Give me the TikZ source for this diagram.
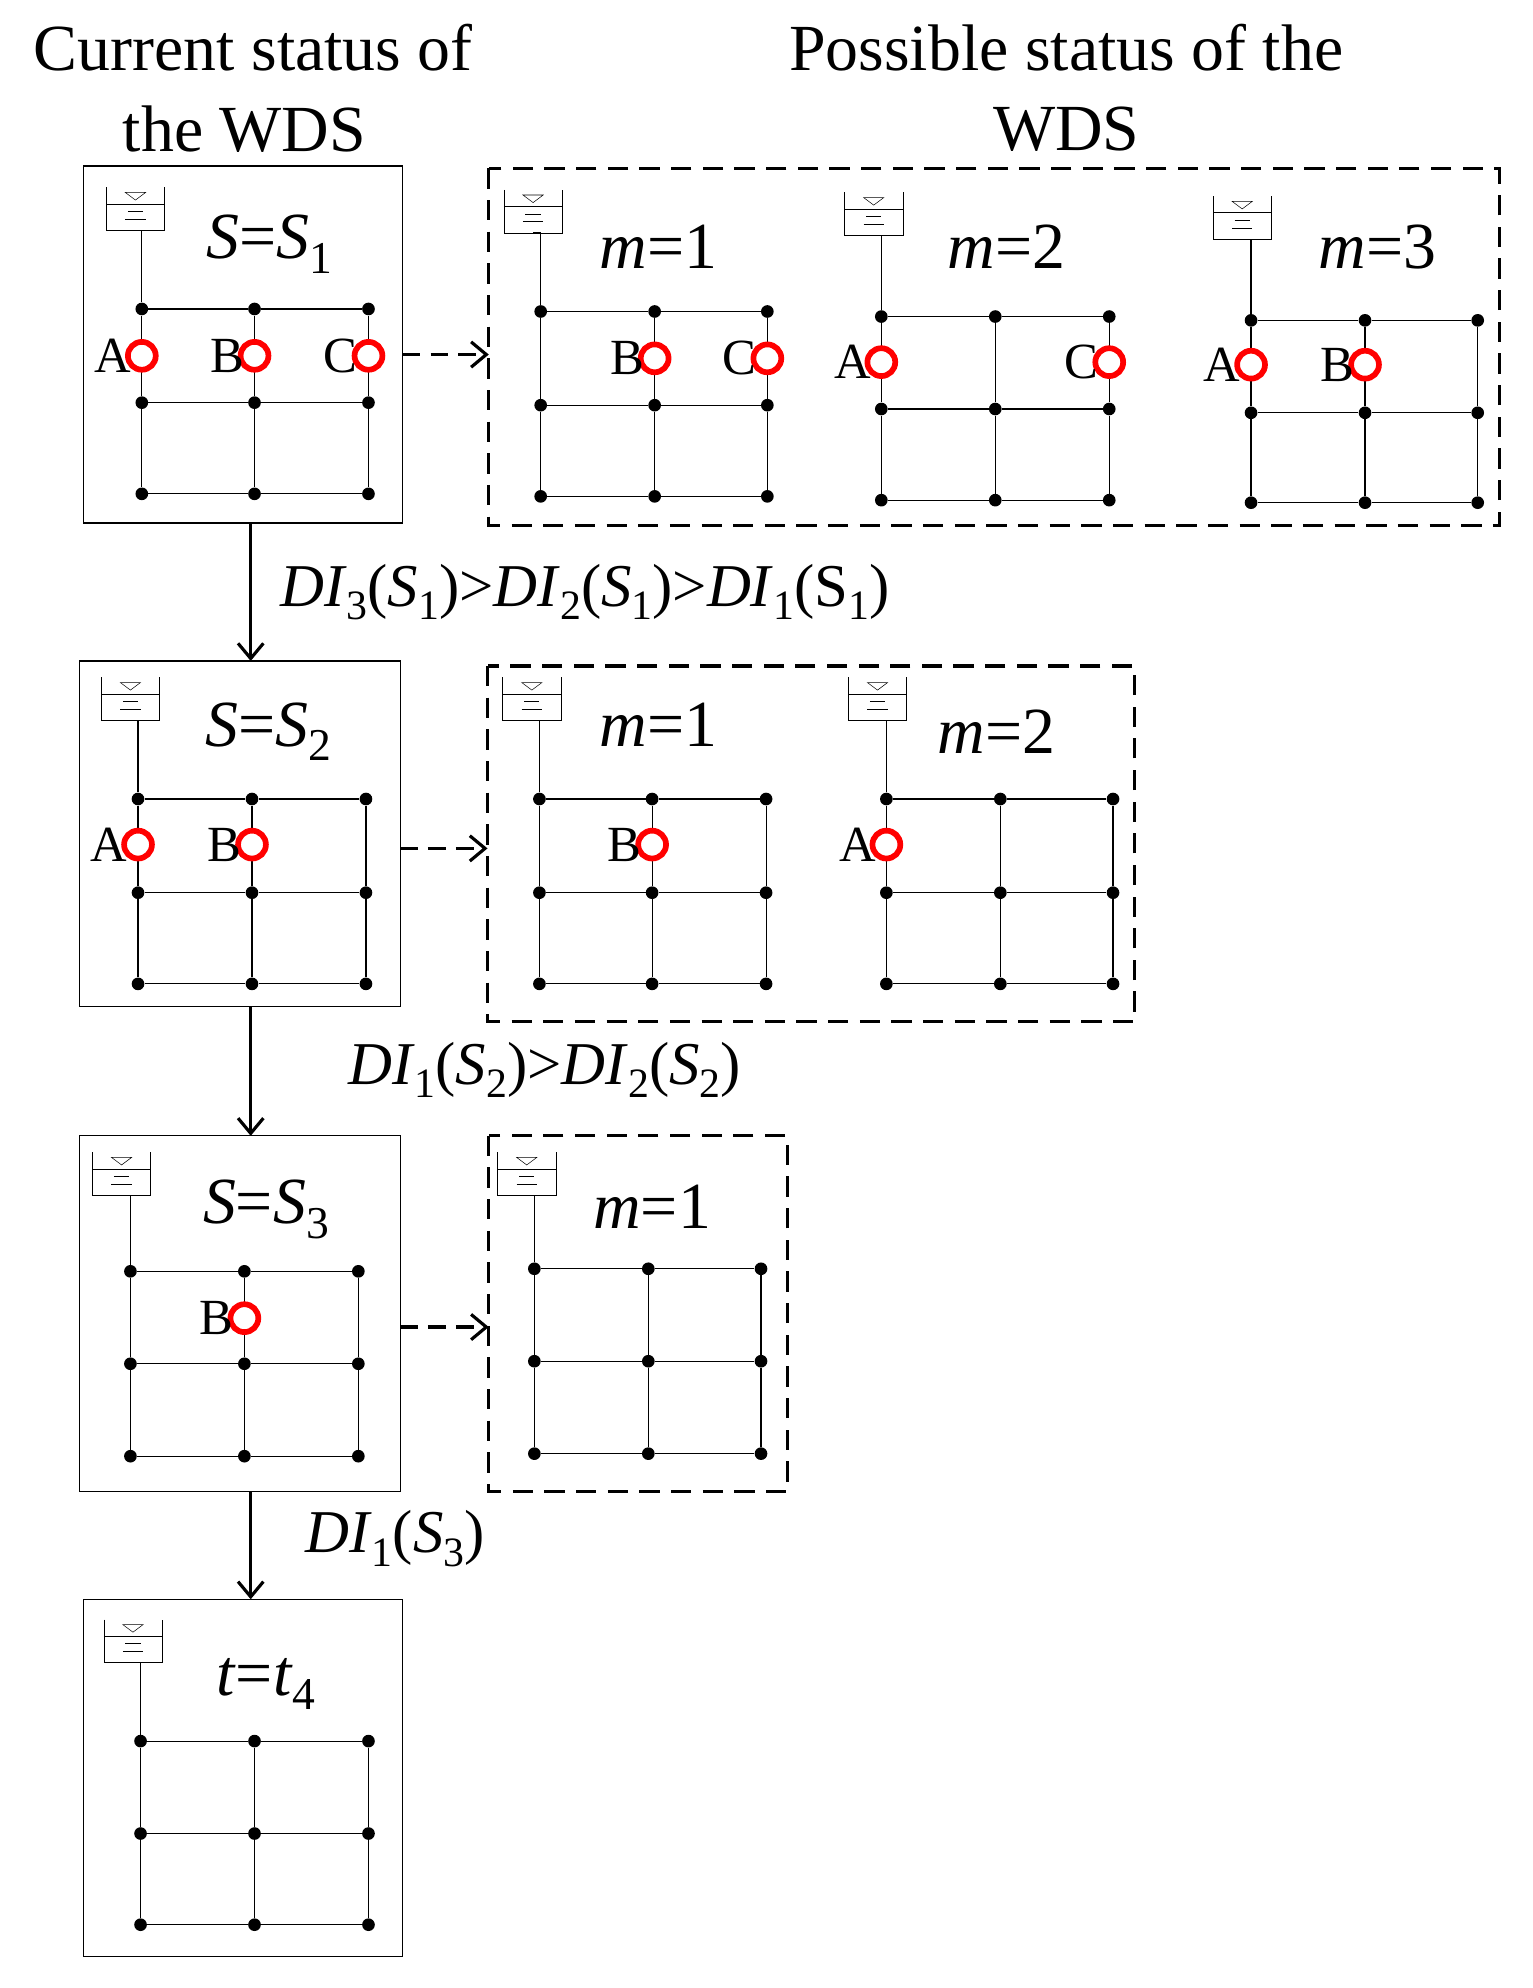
\documentclass[tikz,border=0pt]{standalone}
\usepackage{fontspec}
\setmainfont{Liberation Serif}
\usetikzlibrary{arrows.meta}
\newcommand\lo[1]{\raisebox{-0.22em}{\fontsize{36}{36}\selectfont #1}}
\newcommand\los[1]{\raisebox{-0.22em}{\fontsize{33}{33}\selectfont #1}}
\newcommand\wds[9]{%
  \draw[thin] (#2,#3) -- (#2,#3+34) -- (#2+46,#3+34) -- (#2+46,#3);
  \draw[thin] (#2,#3+13) -- (#2+46,#3+13);
  \draw[thin] (#2+15,#3+4) -- (#2+31,#3+4) -- (#2+23,#3+10) -- cycle;
  \draw[thin] (#2+17,#3+19) -- (#2+29,#3+19) (#2+15,#3+25) -- (#2+31,#3+25);
  \foreach \c/\x in {a/#4,b/#5,c/#6}{\foreach \r/\y in {1/#7,2/#8,3/#9}{\node[dot] (#1\c\r) at (\x,\y) {};}}
  \coordinate (#1t) at (#2+23,#3+34);
  \draw[pipe] (#1t) -| (#1a1);
  \draw[pipe] (#1a1)--(#1b1)--(#1c1) (#1a2)--(#1b2)--(#1c2) (#1a3)--(#1b3)--(#1c3)
    (#1a1)--(#1a2)--(#1a3) (#1b1)--(#1b2)--(#1b3) (#1c1)--(#1c2)--(#1c3);
}
\newcommand\valve[4]{\node[valve] (#1) at (#2,#3) {};\node[lab,anchor=east] at ([xshift=5pt]#1.west) {#4};}
\begin{document}
\begin{tikzpicture}[x=1pt,y=-1pt,
  dot/.style={circle,fill=black,inner sep=0pt,minimum size=10pt},
  pipe/.style={line width=0.9pt},
  valve/.style={circle,draw=red,line width=4.5pt,fill=white,inner sep=0pt,minimum size=22pt},
  lab/.style={font=\fontsize{40}{42}\selectfont,inner sep=0pt},
  big/.style={font=\fontsize{52}{56}\selectfont,inner sep=0pt},
  mid/.style={font=\fontsize{48}{50}\selectfont,inner sep=0pt},
  panel/.style={draw,line width=1pt},
  dpanel/.style={draw,line width=2.5pt,dash pattern=on 16pt off 9pt},
  arr/.style={line width=2.5pt,-{Straight Barb[length=12pt,width=20pt]}},
  darr/.style={line width=2.5pt,dash pattern=on 14pt off 8pt,-{Straight Barb[length=12pt,width=20pt]}}]
\useasboundingbox (0,0) rectangle (1210,1570);
\node[big] (t1) at (200,38) {Current status of};
\node[big] (t2) at (193,102) {the WDS};
\node[big] (t3) at (842,38) {Possible status of the};
\node[big] (t4) at (842,102) {WDS};
% panel 1
\draw[panel] (66,131) rectangle (318,413);
\coordinate (p1b) at (198,413); \coordinate (p1r) at (318,280);
\wds{p}{84}{148}{112}{201}{291}{244}{318}{390}
\node[big] at (213,193) {\textit{S}=\textit{S}\lo{1}};
\valve{pA}{112}{281}{A}\valve{pB}{201}{281}{B}\valve{pC}{291}{281}{C}
% dashed 1
\draw[dpanel] (386,133) rectangle (1184,415);
\coordinate (d1l) at (386,280);
\wds{q}{398}{150}{427}{517}{606}{246}{320}{392}
\node[big] at (520,195) {\textit{m}=1};
\valve{qB}{517}{283}{B}\valve{qC}{606}{283}{C}
\wds{r}{667}{152}{696}{786}{876}{250}{323}{395}
\node[big] at (795,195) {\textit{m}=2};
\valve{rA}{696}{286}{A}\valve{rC}{876}{286}{C}
\wds{s}{958}{155}{988}{1078}{1167}{253}{326}{397}
\node[big] at (1088,195) {\textit{m}=3};
\valve{sA}{988}{288}{A}\valve{sB}{1078}{288}{B}
\draw[darr] (p1r) -- (d1l);
% panel 2
\draw[panel] (63,522) rectangle (316,795);
\coordinate (p2t) at (198,522);
\draw[arr] (p1b) -- node[right=22pt,mid]{\textit{DI}\los{3}(\textit{S}\los{1})>\textit{DI}\los{2}(\textit{S}\los{1})>\textit{DI}\los{1}(S\los{1})} (p2t);
\wds{u}{80}{535}{109}{199}{289}{631}{705}{777}
\node[big] at (212,578) {\textit{S}=\textit{S}\lo{2}};
\valve{uA}{109}{667}{A}\valve{uB}{199}{667}{B}
\draw[dpanel] (385,526) rectangle (896,807);
\wds{v}{397}{535}{426}{515}{605}{631}{705}{777}
\node[big] at (520,572) {\textit{m}=1};
\valve{vB}{515}{667}{B}
\wds{w}{670}{535}{700}{790}{879}{631}{705}{777}
\node[big] at (787,578) {\textit{m}=2};
\valve{wA}{700}{667}{A}
\coordinate (p2r) at (316,670); \coordinate (d2l) at (385,670);
\draw[darr] (p2r) -- (d2l);
% panel 3
\draw[panel] (63,897) rectangle (316,1178);
\coordinate (p2b) at (198,795); \coordinate (p3t) at (198,897);
\draw[arr] (p2b) -- (p3t);
\node[mid] at (430,845) {\textit{DI}\los{1}(\textit{S}\los{2})>\textit{DI}\los{2}(\textit{S}\los{2})};
\wds{x}{73}{910}{103}{193}{283}{1004}{1077}{1150}
\node[big] at (210,955) {\textit{S}=\textit{S}\lo{3}};
\valve{xB}{193}{1041}{B}
\draw[dpanel] (386,897) rectangle (622,1178);
\wds{y}{393}{910}{422}{512}{601}{1002}{1075}{1148}
\node[big] at (515,953) {\textit{m}=1};
\coordinate (p3r) at (316,1048); \coordinate (d3l) at (386,1048);
\draw[darr] (p3r) -- (d3l);
% panel 4
\coordinate (p3b) at (198,1178); \coordinate (p4t) at (198,1263);
\draw[arr] (p3b) -- (p4t);
\node[mid] at (312,1215) {\textit{DI}\los{1}(\textit{S}\los{3})};
\draw[panel] (66,1263) rectangle (318,1545);
\wds{z}{82}{1279}{111}{201}{291}{1375}{1448}{1520}
\node[big] at (210,1330) {\textit{t}=\textit{t}\lo{4}};
\end{tikzpicture}
\end{document}
